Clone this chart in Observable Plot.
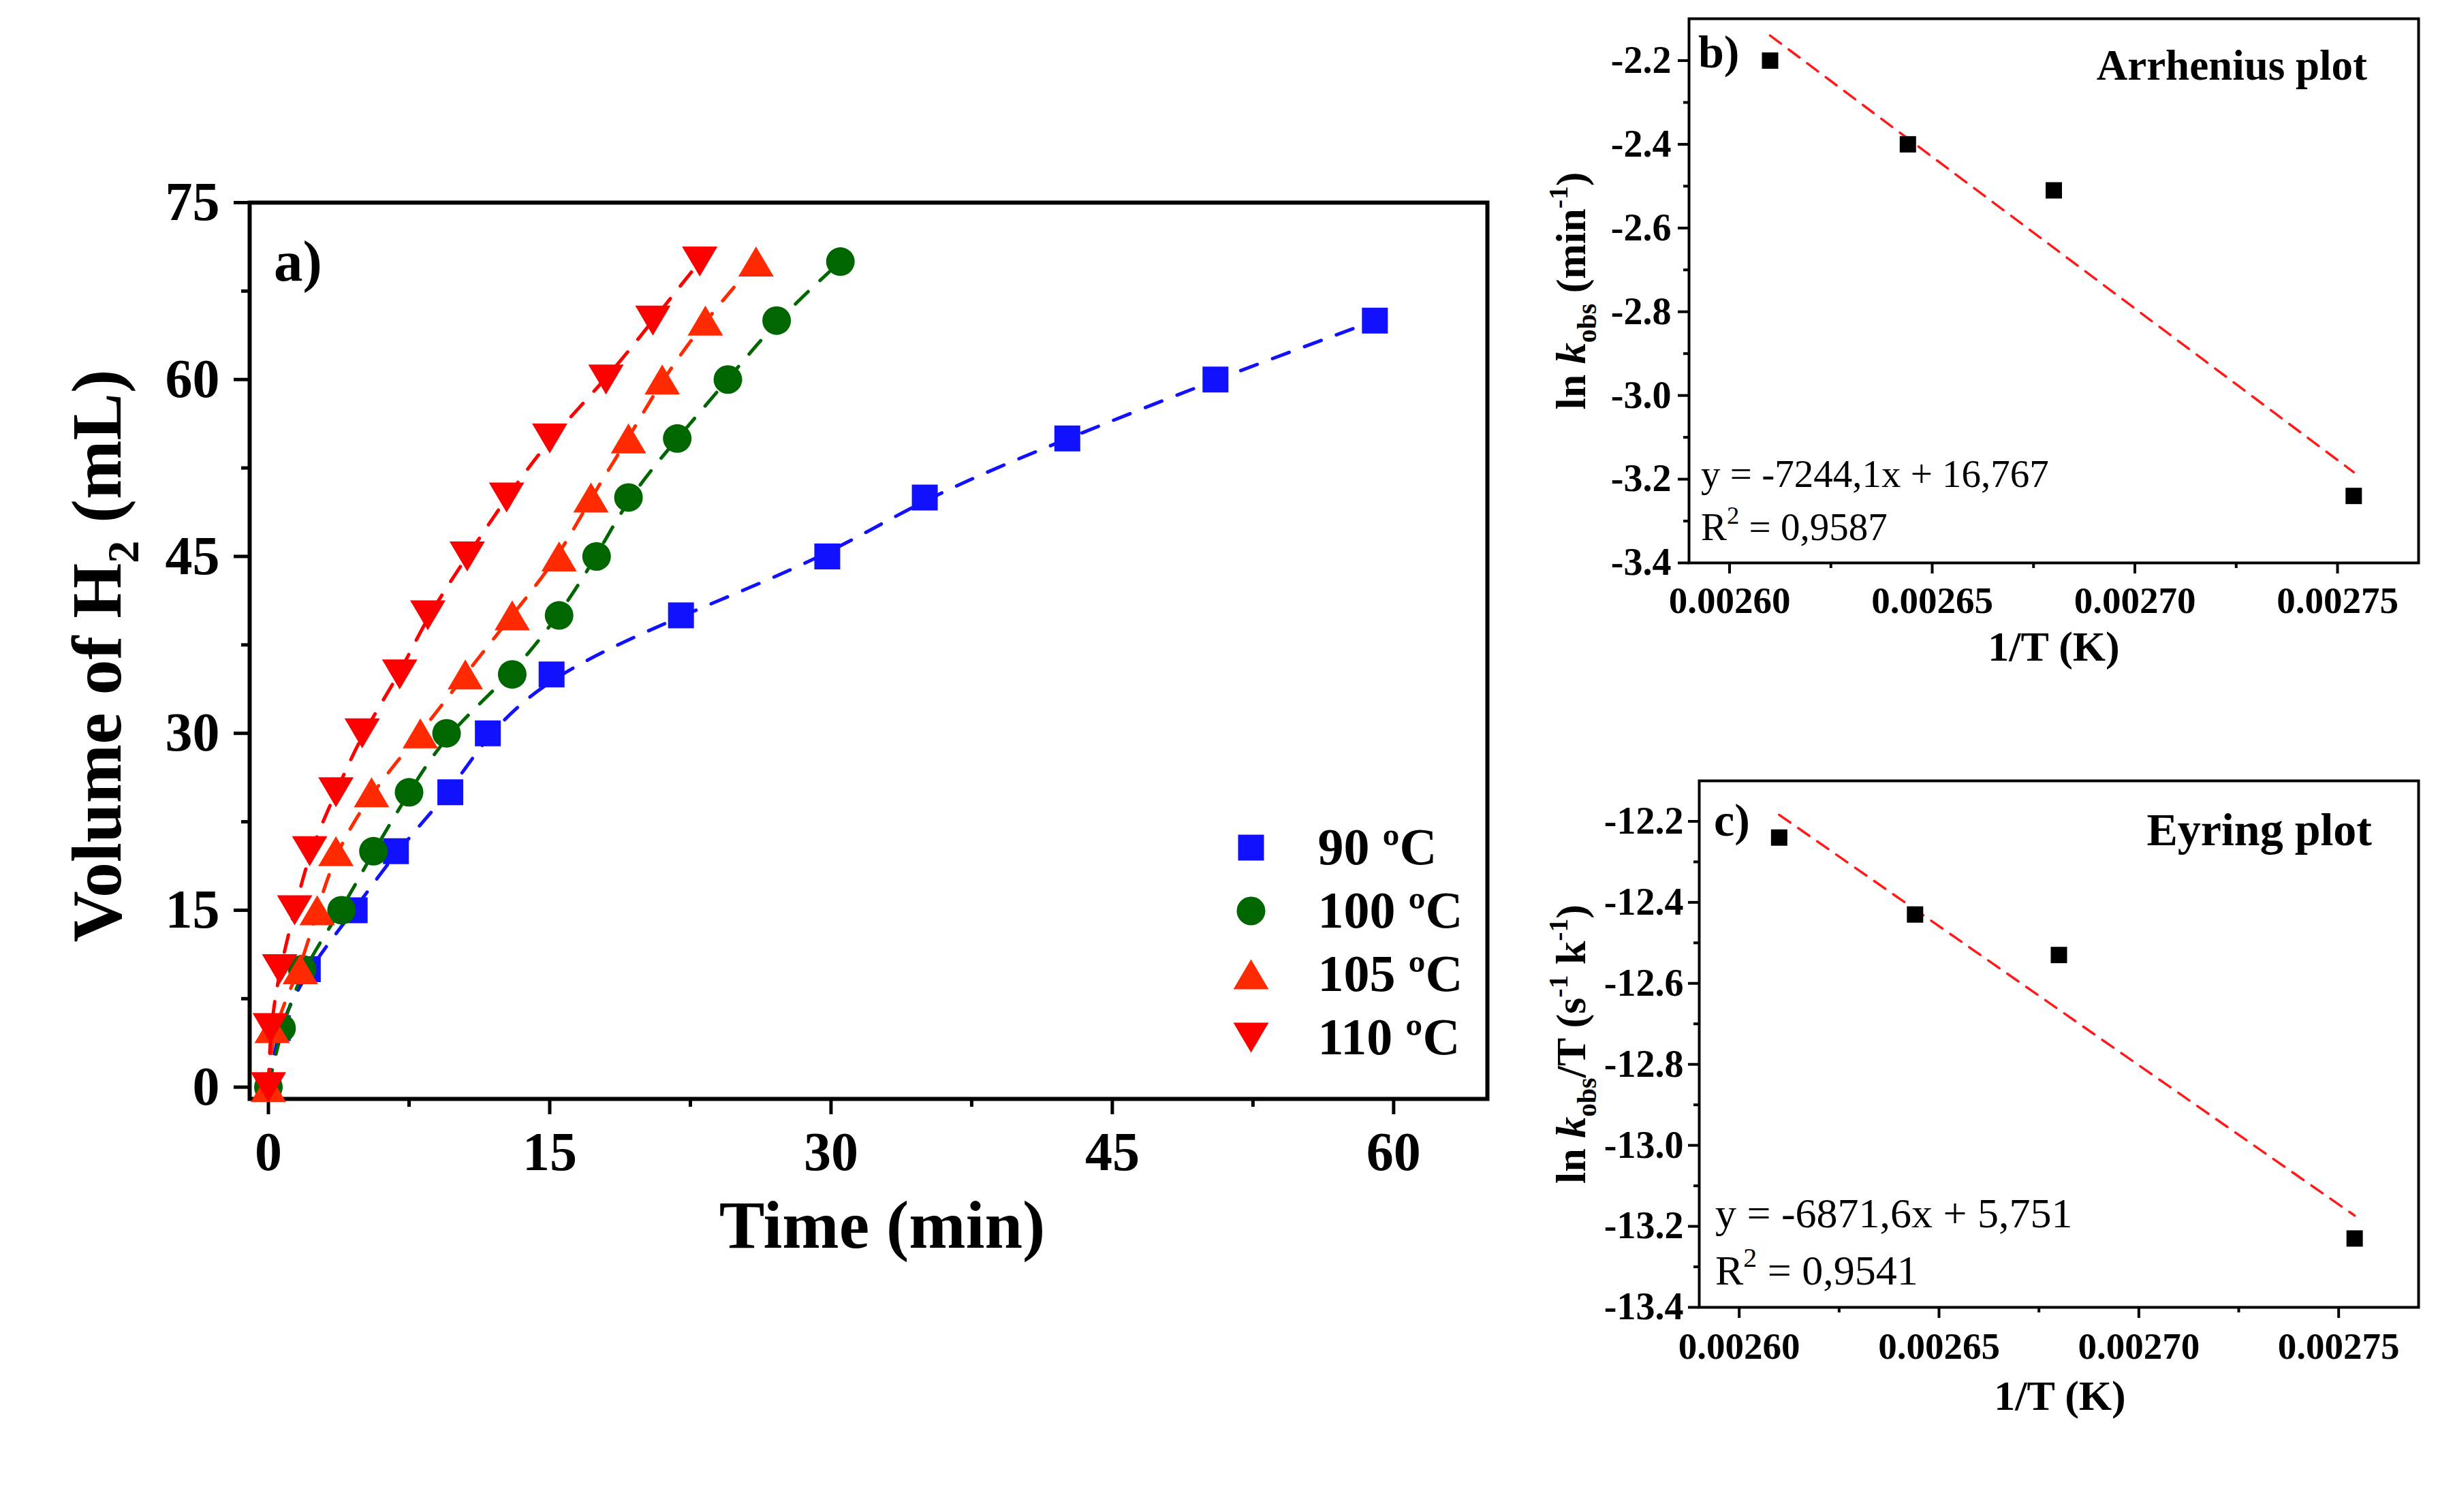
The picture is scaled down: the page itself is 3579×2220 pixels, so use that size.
<!DOCTYPE html>
<html>
<head>
<meta charset="utf-8">
<script src="https://cdn.jsdelivr.net/npm/d3@7"></script>
<script src="https://cdn.jsdelivr.net/npm/@observablehq/plot@0.6"></script>
<style>
  html, body { margin: 0; padding: 0; background: #fff; }
  #fig { position: relative; width: 3579px; height: 2220px; background: #fff; overflow: hidden; }
  #fig svg { position: absolute; max-width: none; }
</style>
</head>
<body>
<div id="fig"></div>
<script>
// ---------- a) H2 evolution: time (min) needed to reach each 5 mL step ----------
const volumeSteps = [0, 5, 10, 15, 20, 25, 30, 35, 40, 45, 50, 55, 60, 65, 70];
const time90  = [0, 0.5, 2.1, 4.6, 6.8, 9.7, 11.7, 15.1, 22.0, 29.8, 35.0, 42.6, 50.5, 59.0];
const time100 = [0, 0.7, 1.8, 3.9, 5.6, 7.5, 9.5, 13.0, 15.5, 17.5, 19.2, 21.8, 24.5, 27.1, 30.5];
const time105 = [0, 0.2, 1.7, 2.6, 3.6, 5.5, 8.1, 10.5, 13.0, 15.5, 17.2, 19.2, 21.0, 23.3, 26.0];
const time110 = [0, 0.1, 0.6, 1.4, 2.2, 3.6, 5.0, 7.0, 8.5, 10.6, 12.7, 15.0, 18.0, 20.5, 23.0];
const seriesLabels = ["90 ºC", "100 ºC", "105 ºC", "110 ºC"];
const seriesColors = ["#1111FF", "#006600", "#FF2A00", "#FF0000"];
const timeTicks = [0, 15, 30, 45, 60];
const timeMinorTicks = [7.5, 22.5, 37.5, 52.5];
const volumeTicks = [0, 15, 30, 45, 60, 75];
const volumeMinorTicks = [7.5, 22.5, 37.5, 52.5, 67.5];

// ---------- b) Arrhenius and c) Eyring plots ----------
const invT = [0.002610, 0.002644, 0.002680, 0.002754];
const lnK = [-2.20, -2.40, -2.51, -3.24];
const lnKoverT = [-12.24, -12.43, -12.53, -13.23];
const arrSlope = -7244.1, arrIntercept = 16.767, arrR2 = 0.9587;
const eyrSlope = -6871.6, eyrIntercept = 5.751, eyrR2 = 0.9541;
const invTTicks = [0.00260, 0.00265, 0.00270, 0.00275];
const invTMinorTicks = [0.002625, 0.002675, 0.002725];
const lnKTicks = [-2.2, -2.4, -2.6, -2.8, -3.0, -3.2, -3.4];
const lnKMinorTicks = [-2.3, -2.5, -2.7, -2.9, -3.1, -3.3];
const lnKTTicks = [-12.2, -12.4, -12.6, -12.8, -13.0, -13.2, -13.4];
const lnKTMinorTicks = [-12.3, -12.5, -12.7, -12.9, -13.1, -13.3];

const FONT = "'Liberation Serif', 'Times New Roman', Times, serif";
const fig = document.getElementById("fig");

// Marker shapes; r is the half-size of each glyph
const radius = (size) => Math.sqrt(size / Math.PI);
const squareSym = {draw(ctx, size) { const r = radius(size); ctx.rect(-r, -r, 2 * r, 2 * r); }};
const circleSym = {draw(ctx, size) { const r = radius(size); ctx.moveTo(r, 0); ctx.arc(0, 0, r, 0, 2 * Math.PI); }};
const triUpSym = {draw(ctx, size) { const r = radius(size), w = 1.18 * r; ctx.moveTo(0, -r); ctx.lineTo(w, r); ctx.lineTo(-w, r); ctx.closePath(); }};
const triDownSym = {draw(ctx, size) { const r = radius(size), w = 1.18 * r; ctx.moveTo(0, r); ctx.lineTo(w, -r); ctx.lineTo(-w, -r); ctx.closePath(); }};
const seriesSymbols = [squareSym, circleSym, triUpSym, triDownSym];
const seriesR = [19, 21, 22, 22];

const decimalComma = (v) => String(v).replace(".", ",");

// Text with sub/superscripts and italics, placed at a baseline point
function richText(svg, {x, y, rotate = 0, anchor = "start", size, weight = "bold", parts}) {
  const t = d3.select(svg).append("text")
    .attr("transform", `translate(${x},${y}) rotate(${rotate})`)
    .attr("text-anchor", anchor)
    .attr("font-family", FONT)
    .attr("font-size", size)
    .attr("font-weight", weight)
    .attr("fill", "black")
    .style("white-space", "pre");
  let shift = 0;
  for (const p of parts) {
    const [str, kind] = typeof p === "string" ? [p, null] : p;
    const ts = t.append("tspan").text(str);
    let target = 0, fs = size;
    if (kind === "sub") { target = 0.25 * size; fs = 0.64 * size; }
    if (kind === "sup") { target = -0.42 * size; fs = 0.64 * size; }
    if (kind === "italic") ts.attr("font-style", "italic");
    ts.attr("font-size", fs).attr("dy", target - shift);
    shift = target;
  }
  return t;
}

function place(svg, left, top) {
  svg.style.left = left + "px";
  svg.style.top = top + "px";
  fig.appendChild(svg);
}

const baseStyle = {fontFamily: FONT, fontWeight: "bold", color: "black", background: "none", overflow: "visible"};

// ---------- Panel a ----------
const seriesTimes = [time90, time100, time105, time110];
const evolution = seriesTimes.map((times, i) =>
  times.map((t, j) => ({time: t, volume: volumeSteps[j], series: seriesLabels[i]})));

const marksA = [
  Plot.frame({strokeWidth: 6}),
  Plot.axisX({ticks: timeTicks, tickFormat: (d) => String(d), tickSize: 23, tickPadding: 25, fontSize: 80, strokeWidth: 5, label: null}),
  Plot.axisX({ticks: timeMinorTicks, tickFormat: () => "", tickSize: 12, strokeWidth: 5, label: null}),
  Plot.axisY({ticks: volumeTicks, tickFormat: (d) => String(d), tickSize: 23, tickPadding: 21, fontSize: 80, strokeWidth: 5, label: null}),
  Plot.axisY({ticks: volumeMinorTicks, tickFormat: () => "", tickSize: 12, strokeWidth: 5, label: null})
];
evolution.forEach((rows, i) => {
  marksA.push(Plot.line(rows, {x: "time", y: "volume", stroke: seriesColors[i], strokeWidth: 5, strokeDasharray: "26,24", curve: "basis"}));
  marksA.push(Plot.dot(rows, {x: "time", y: "volume", symbol: seriesSymbols[i], r: seriesR[i], fill: seriesColors[i]}));
});
// Legend inside the frame, lower right
seriesLabels.forEach((label, i) => {
  marksA.push(Plot.dot([label], {frameAnchor: "top-left", dx: 1470, dy: 947 + 93 * i, symbol: seriesSymbols[i], r: seriesR[i], fill: seriesColors[i]}));
  marksA.push(Plot.text([label], {frameAnchor: "top-left", dx: 1568, dy: 947 + 93 * i, text: (d) => d, textAnchor: "start", lineAnchor: "middle", fontSize: 76, fontWeight: "bold", fill: "black"}));
});

const plotA = Plot.plot({
  width: 2250, height: 1900,
  marginLeft: 366, marginRight: 67, marginTop: 297, marginBottom: 287,
  x: {domain: [-1, 65]},
  y: {domain: [-1, 75]},
  style: baseStyle,
  marks: marksA
});
richText(plotA, {x: 402, y: 412, size: 85, parts: ["a)"]});
richText(plotA, {x: 1295, y: 1832, anchor: "middle", size: 100, parts: ["Time (min)"]});
richText(plotA, {x: 177, y: 963, rotate: -90, anchor: "middle", size: 104, parts: ["Volume of H", ["2", "sub"], " (mL)"]});
place(plotA, 0, 0);

// ---------- Panels b and c ----------
function kineticPanel({values, slope, intercept, yDomain, yTicks, yMinor, yFmt, height, marginLeft, marginTop, marginBottom, yTickPadding, xTickPadding}) {
  const rows = invT.map((x, i) => ({invT: x, value: values[i]}));
  const fit = d3.extent(invT).map((x) => ({invT: x, value: slope * x + intercept}));
  return Plot.plot({
    width: 1379, height,
    marginLeft, marginRight: 29, marginTop, marginBottom,
    x: {domain: [0.00259, 0.00277]},
    y: {domain: yDomain},
    style: baseStyle,
    marks: [
      Plot.frame({strokeWidth: 4}),
      Plot.axisX({ticks: invTTicks, tickFormat: (d) => d.toFixed(5), tickSize: 16, tickPadding: xTickPadding, fontSize: 55, strokeWidth: 4, label: null}),
      Plot.axisX({ticks: invTMinorTicks, tickFormat: () => "", tickSize: 8, strokeWidth: 4, label: null}),
      Plot.axisY({ticks: yTicks, tickFormat: yFmt, tickSize: 16, tickPadding: yTickPadding, fontSize: 56, strokeWidth: 4, label: null}),
      Plot.axisY({ticks: yMinor, tickFormat: () => "", tickSize: 8, strokeWidth: 4, label: null}),
      Plot.line(fit, {x: "invT", y: "value", stroke: "#FF1A1A", strokeWidth: 3.5, strokeDasharray: "20,14"}),
      Plot.dot(rows, {x: "invT", y: "value", symbol: squareSym, r: 12, fill: "black"})
    ]
  });
}

const plotB = kineticPanel({
  values: lnK, slope: arrSlope, intercept: arrIntercept,
  yDomain: [-3.4, -2.1], yTicks: lnKTicks, yMinor: lnKMinorTicks, yFmt: (d) => d.toFixed(1),
  height: 1090, marginLeft: 279, marginTop: 27, marginBottom: 264, yTickPadding: 10, xTickPadding: 18
});
richText(plotB, {x: 293, y: 99, size: 68, parts: ["b)"]});
richText(plotB, {x: 1275, y: 117, anchor: "end", size: 63, parts: ["Arrhenius plot"]});
richText(plotB, {x: 297, y: 715, size: 57, weight: "normal", parts: [`y = ${decimalComma(arrSlope)}x + ${decimalComma(arrIntercept)}`]});
richText(plotB, {x: 297, y: 793, size: 57, weight: "normal", parts: ["R", ["2", "sup"], ` = ${decimalComma(arrR2)}`]});
richText(plotB, {x: 815, y: 970, anchor: "middle", size: 62, parts: ["1/T (K)"]});
richText(plotB, {x: 127, y: 427, rotate: -90, anchor: "middle", size: 62,
  parts: ["ln ", ["k", "italic"], ["obs", "sub"], " (min", ["-1", "sup"], ")"]});
place(plotB, 2200, 0);

const plotC = kineticPanel({
  values: lnKoverT, slope: eyrSlope, intercept: eyrIntercept,
  yDomain: [-13.4, -12.1], yTicks: lnKTTicks, yMinor: lnKTMinorTicks, yFmt: (d) => d.toFixed(1),
  height: 1120, marginLeft: 294, marginTop: 46, marginBottom: 301, yTickPadding: 7, xTickPadding: 20
});
richText(plotC, {x: 316, y: 127, size: 68, parts: ["c)"]});
richText(plotC, {x: 1282, y: 141, anchor: "end", size: 68, parts: ["Eyring plot"]});
richText(plotC, {x: 318, y: 702, size: 62, weight: "normal", parts: [`y = ${decimalComma(eyrSlope)}x + ${decimalComma(eyrIntercept)}`]});
richText(plotC, {x: 318, y: 786, size: 62, weight: "normal", parts: ["R", ["2", "sup"], ` = ${decimalComma(eyrR2)}`]});
richText(plotC, {x: 824, y: 970, anchor: "middle", size: 62, parts: ["1/T (K)"]});
richText(plotC, {x: 127, y: 433, rotate: -90, anchor: "middle", size: 62,
  parts: ["ln ", ["k", "italic"], ["obs", "sub"], "/T (s", ["-1", "sup"], " k", ["-1", "sup"], ")"]});
place(plotC, 2200, 1100);
</script>
</body>
</html>
